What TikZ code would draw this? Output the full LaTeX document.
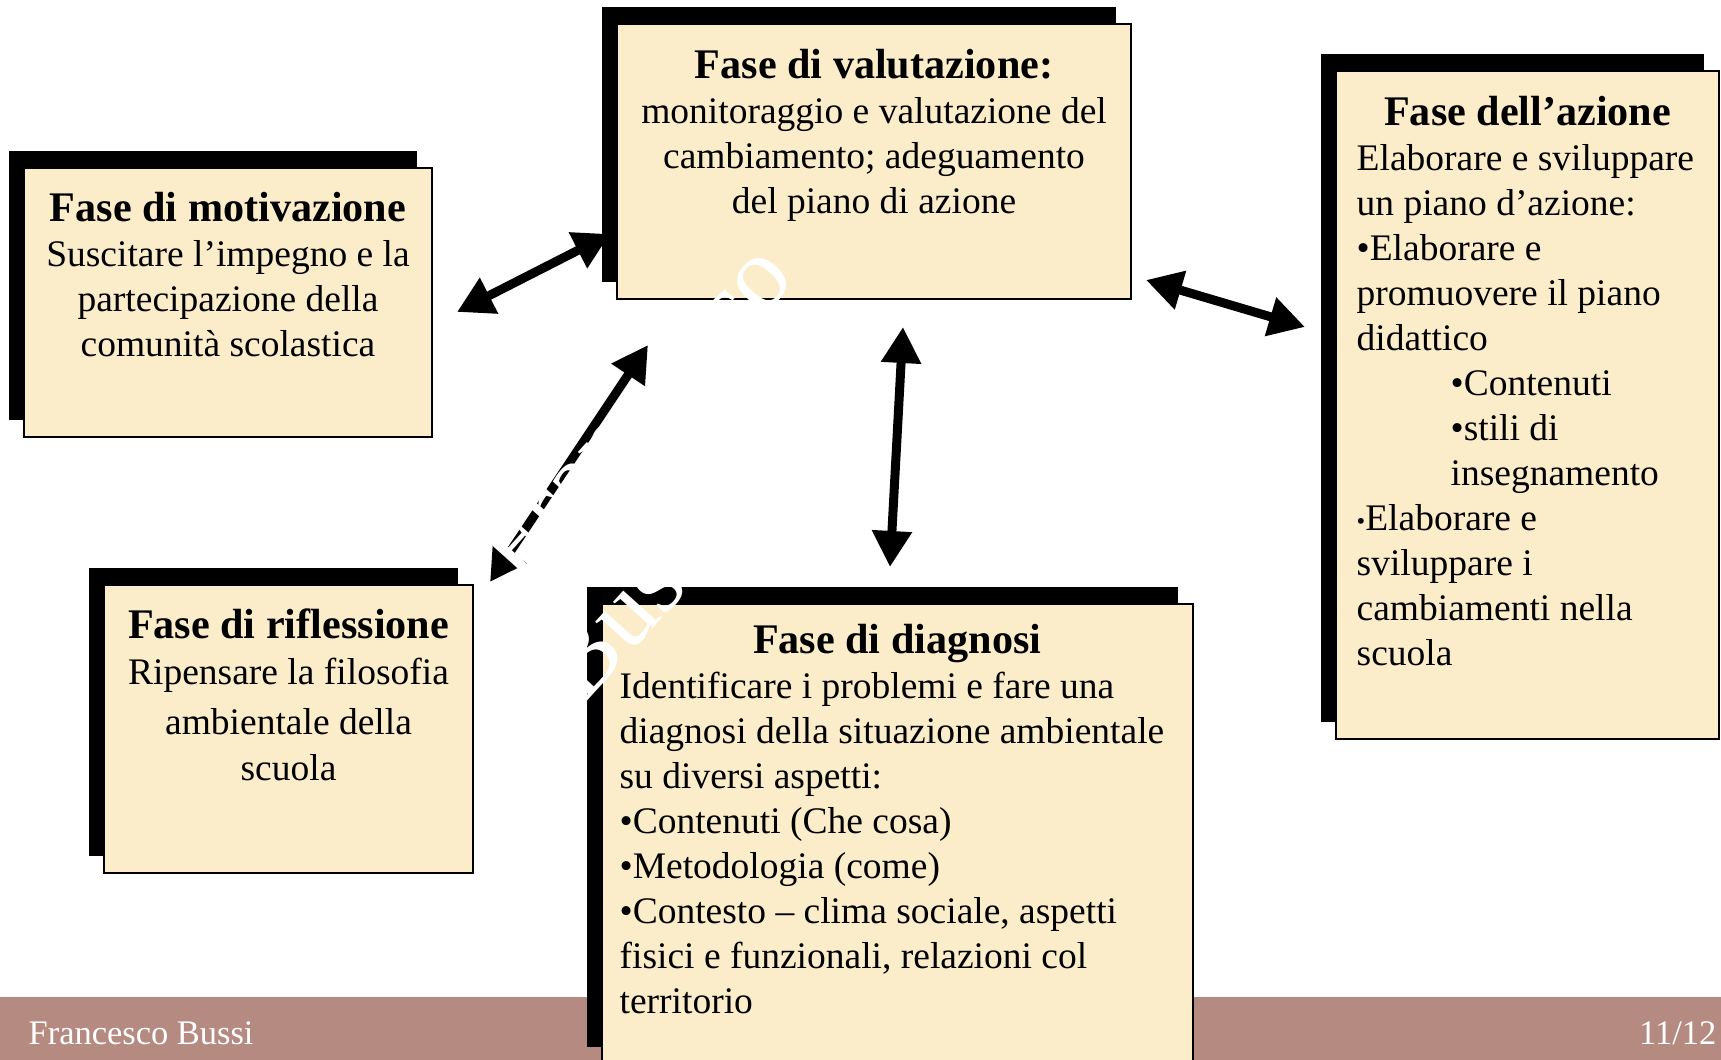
\documentclass[tikz,border=0pt]{standalone}
\usepackage{fontspec}
\setmainfont{Liberation Serif}
\usetikzlibrary{positioning}
\usetikzlibrary{arrows.meta}
\usetikzlibrary{shadows}
\definecolor{cream}{RGB}{252,237,202}
\definecolor{footbar}{RGB}{181,138,128}
\tikzset{
    fasebox/.style = {rectangle, draw=black, line width=0.6pt, fill=cream, inner sep=0pt,
        general shadow={fill=black, shadow xshift=-0.15cm, shadow yshift=0.165cm}},
    fasetext/.style = {inner sep=0pt, font=\fontsize{10.67}{12.8}\selectfont},
    foottext/.style = {inner sep=0pt, text=white, font=\fontsize{9.8}{11}\selectfont},
    watermark/.style = {inner sep=0pt, text=white, rotate=48, align=left, font=\fontsize{29}{36}\selectfont},
    dblarrow/.style = {{Triangle[length=0.36cm,width=0.38cm]}-{Triangle[length=0.36cm,width=0.38cm]}, line width=0.09cm},
}
\newcommand{\T}[1]{{\fontsize{12}{12.8}\selectfont\bfseries #1}}
\newcommand{\sbul}{{\fontsize{7}{7}\selectfont\raisebox{0.5pt}{•}}}

\begin{document}
\begin{tikzpicture}
\path[use as bounding box, clip] (0,0) rectangle (17.21,10.60);
\fill[footbar] (0,0) rectangle (17.21,0.63);
\node[foottext, anchor=west] at (0.28,0.27) (autore) {Francesco Bussi};
\node[foottext, anchor=east] at (17.17,0.27) (pagina) {11/12};
%
\node[fasebox, minimum width=4.08cm, minimum height=2.69cm] at (2.28, 7.575) (mot) {};
\node[fasebox, minimum width=5.14cm, minimum height=2.75cm] at (8.74, 8.985) (val) {};
\node[fasebox, minimum width=3.83cm, minimum height=6.68cm] at (15.275, 6.55) (az) {};
\node[fasebox, minimum width=3.69cm, minimum height=2.88cm] at (2.885, 3.31) (rif) {};
\node[fasebox, minimum width=5.91cm, minimum height=4.60cm] at (8.975, 2.26) (diag) {};
%
\node[fasetext, align=center, below=0.25cm of mot.north] (motT)
  {\T{Fase di motivazione}\\ Suscitare l’impegno e la\\ partecipazione della\\ comunità scolastica};
\node[fasetext, align=center, below=0.26cm of val.north] (valT)
  {\T{Fase di valutazione:}\\ monitoraggio e valutazione del\\ cambiamento; adeguamento\\ del piano di azione};
\node[fasetext, text width=3.7cm, align=flush left, below right=0.26cm and 0.21cm of az.north west] (azT)
  {\makebox[3.42cm]{\T{Fase dell’azione}}\\ Elaborare e sviluppare\\ un piano d’azione:\\ •Elaborare e\\
   promuovere il piano\\ didattico\\ \hspace*{0.94cm}•Contenuti\\ \hspace*{0.94cm}•stili di\\
   \hspace*{0.94cm}insegnamento\\ \sbul Elaborare e\\ sviluppare i\\ cambiamenti nella\\ scuola};
\node[fasetext, align=center, below=0.24cm of rif.north] (rifT)
  {\T{Fase di riflessione}\\[0.3pt] Ripensare la filosofia\\[1.4pt] ambientale della\\[0.3pt] scuola};
\node[fasetext, text width=5.7cm, align=flush left, below right=0.21cm and 0.18cm of diag.north west] (diagT)
  {\makebox[5.55cm]{\T{Fase di diagnosi}}\\ Identificare i problemi e fare una\\ diagnosi della situazione ambientale\\
   su diversi aspetti:\\ •Contenuti (Che cosa)\\ •Metodologia (come)\\ •Contesto – clima sociale, aspetti\\
   fisici e funzionali, relazioni col\\ territorio};
%
\coordinate (a1) at (4.57, 7.48);
\coordinate (b1) at (6.10, 8.26);
\coordinate (a2) at (4.90, 4.78);
\coordinate (b2) at (6.48, 7.15);
\coordinate (a3) at (8.90, 4.93);
\coordinate (b3) at (9.03, 7.33);
\coordinate (a4) at (11.46, 7.80);
\coordinate (b4) at (13.05, 7.33);
\draw[dblarrow] (a1) -- (b1);
\draw[dblarrow] (a2) -- (b2);
\draw[dblarrow] (a3) -- (b3);
\draw[dblarrow] (a4) -- (b4);
%
\node[watermark, anchor=north west] at (4.70, 5.18) (filigrana) {Francesco\\ \hspace*{-0.46cm}Bussi};
\end{tikzpicture}
\end{document}
